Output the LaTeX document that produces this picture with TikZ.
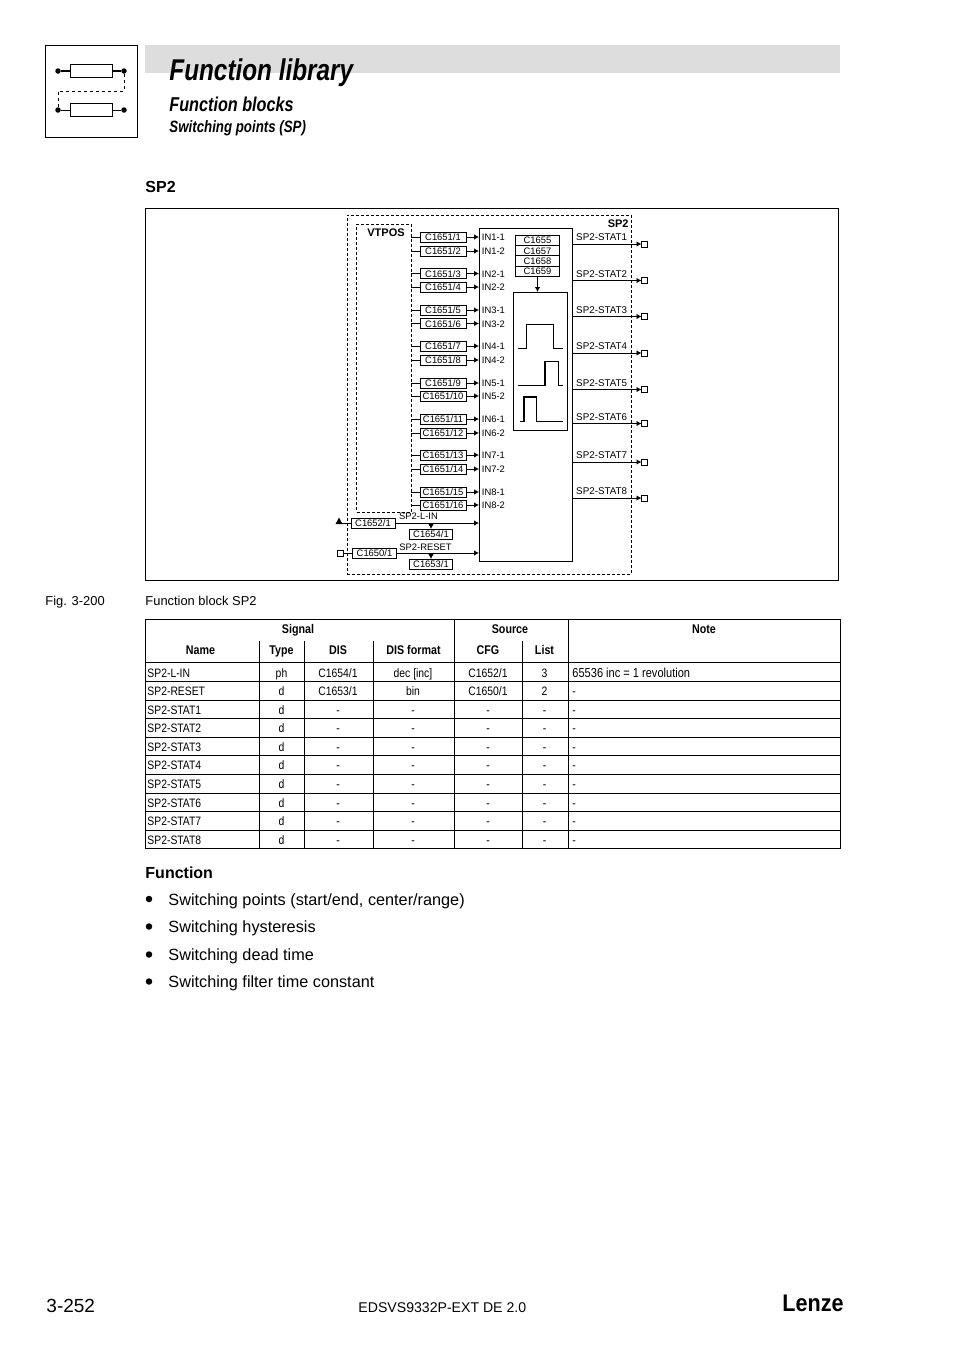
\documentclass[tikz,border=0pt]{standalone}
\usepackage{fontspec}
\setmainfont{Liberation Sans}
\newfontfamily\narrowfont[FakeStretch=0.85]{Liberation Sans}
\newfontfamily\titlefont[FakeStretch=0.81]{Liberation Sans}
\newfontfamily\logofont[FakeStretch=0.9]{Liberation Sans}
\usepackage{xcolor}
\usetikzlibrary{arrows.meta,positioning,shapes.geometric}
\definecolor{bandgray}{HTML}{DDDDDD}
\newcommand{\sizept}[1]{\fontsize{#1}{#1}\selectfont}

\begin{document}
\begin{tikzpicture}[x=1pt,y=-1pt,line width=0.9pt,
 frame/.style={draw,inner sep=0pt,outer sep=0pt},
 dashframe/.style={draw,dash pattern=on 3pt off 2pt,inner sep=0pt,outer sep=0pt},
 cbox/.style={draw,fill=white,inner sep=0pt,outer sep=0pt,minimum width=46pt,minimum height=10pt,text height=7pt,text depth=0pt,font=\sizept{9.4}},
 dbox/.style={cbox,minimum width=43pt},
 stackbox/.style={cbox,minimum width=44pt,minimum height=10.3pt},
 sig/.style={inner sep=0pt,text height=7pt,text depth=0pt,font=\sizept{9.4}},
 statlab/.style={sig,font=\sizept{9.8}},
 portsq/.style={draw,fill=white,inner sep=0pt,outer sep=0pt,minimum size=6pt},
 arr/.style={-{Latex[length=5pt,width=5.5pt]}},
 pulse/.style={line width=1.3pt},
 txt/.style={anchor=base west,inner sep=0pt},
 head/.style={anchor=base,inner sep=0pt,font=\narrowfont\sizept{12.6}\bfseries},
 cell/.style={anchor=base,inner sep=0pt,font=\narrowfont\sizept{12.2}},
 lcell/.style={anchor=base west,inner sep=0pt,font=\narrowfont\sizept{12.2}},
 bullet/.style={circle,fill,inner sep=0pt,minimum size=6.5pt},
 dot/.style={circle,fill,inner sep=0pt,minimum size=5.5pt},
 item/.style={anchor=base west,inner sep=0pt,font=\sizept{16.25}}]
\useasboundingbox (0,0) rectangle (954,1350);
% page head
\node[fill=bandgray,inner sep=0pt,minimum width=695pt,minimum height=28pt] (band) at (492.5,59) {};
\node[frame,minimum size=92pt] (icon) at (91,91) {};
\node[frame,minimum width=42pt,minimum height=12.5pt] (rtop) at (91,71) {};
\node[frame,minimum width=42pt,minimum height=12.5pt] (rbot) at (91,110) {};
\node[dot] (dota) at (58,71) {}; \node[dot] (dotb) at (124,71) {};
\node[dot] (dotc) at (58,110) {}; \node[dot] (dotd) at (124,110) {};
\draw[line width=2pt] (dota)--(rtop); \draw[line width=2pt] (rtop)--(dotb);
\draw (dotc)--(rbot); \draw (rbot)--(dotd);
\draw[dash pattern=on 3pt off 3pt] (dotb)--(124,91)--(58,91)--(dotc);
\node[txt,font=\titlefont\sizept{30}\bfseries\itshape] (title) at (169,80) {Function library};
\node[txt,font=\titlefont\sizept{20}\bfseries\itshape] (subtitle) at (169,111) {Function blocks};
\node[txt,font=\titlefont\sizept{16.4}\bfseries\itshape] (subsub) at (169,132) {Switching points (SP)};
\node[txt,font=\sizept{16}\bfseries] (sptitle) at (145,192) {SP2};
% block diagram
\node[frame,minimum width=693pt,minimum height=372pt] (outer) at (491.5,394) {};
\node[dashframe,minimum width=284pt,minimum height=359pt] (sp) at (489,394.5) {};
\node[dashframe,minimum width=54.5pt,minimum height=288pt] (vtpos) at (383.75,368) {};
\node[frame,minimum width=93pt,minimum height=333pt] (block) at (525.5,394.5) {};
\node[frame,minimum width=54pt,minimum height=138pt] (curve) at (540.7,361) {};
\node[sig,font=\sizept{11}\bfseries] (vtposlab) at (386,233) {VTPOS};
\node[sig,font=\sizept{11}\bfseries,anchor=east] (splab) at (629,224) {SP2};
% codes above the curves
\node[stackbox] (c1655) at (537.5,240.3) {C1655};
\node[stackbox,below=0pt of c1655] (c1657) {C1657};
\node[stackbox,below=0pt of c1657] (c1658) {C1658};
\node[stackbox,below=0pt of c1658] (c1659) {C1659};
\draw[line width=1.5pt] (c1655.south west)--(c1655.south east);
\draw[arr] (c1659.south)--(c1659.south |- curve.north);
\draw[pulse] (518,348.3)--(526.7,348.3)--(526.7,324.3)--(553.3,324.3)--(553.3,348.3)--(562.7,348.3);
\draw[pulse] (518,385.7)--(545,385.7)--(545,361.7)--(558.3,361.7)--(558.3,385.7)--(562.7,385.7);
\draw[pulse] (520,421.7)--(524,421.7)--(524,397)--(536.7,397)--(536.7,421.7)--(563,421.7);
% inputs
\node[cbox] (c1) at (443,237) {C1651/1}; \node[sig,right=15.5pt of c1] (in1) {IN1-1};
\node[cbox] (c2) at (443,251) {C1651/2}; \node[sig,right=15.5pt of c2] (in2) {IN1-2};
\node[cbox] (c3) at (443,273.5) {C1651/3}; \node[sig,right=15.5pt of c3] (in3) {IN2-1};
\node[cbox] (c4) at (443,287) {C1651/4}; \node[sig,right=15.5pt of c4] (in4) {IN2-2};
\node[cbox] (c5) at (443,310) {C1651/5}; \node[sig,right=15.5pt of c5] (in5) {IN3-1};
\node[cbox] (c6) at (443,323.5) {C1651/6}; \node[sig,right=15.5pt of c6] (in6) {IN3-2};
\node[cbox] (c7) at (443,346) {C1651/7}; \node[sig,right=15.5pt of c7] (in7) {IN4-1};
\node[cbox] (c8) at (443,360) {C1651/8}; \node[sig,right=15.5pt of c8] (in8) {IN4-2};
\node[cbox] (c9) at (443,383) {C1651/9}; \node[sig,right=15.5pt of c9] (in9) {IN5-1};
\node[cbox] (c10) at (443,396) {C1651/10}; \node[sig,right=15.5pt of c10] (in10) {IN5-2};
\node[cbox] (c11) at (443,419) {C1651/11}; \node[sig,right=15.5pt of c11] (in11) {IN6-1};
\node[cbox] (c12) at (443,433) {C1651/12}; \node[sig,right=15.5pt of c12] (in12) {IN6-2};
\node[cbox] (c13) at (443,455) {C1651/13}; \node[sig,right=15.5pt of c13] (in13) {IN7-1};
\node[cbox] (c14) at (443,469) {C1651/14}; \node[sig,right=15.5pt of c14] (in14) {IN7-2};
\node[cbox] (c15) at (443,492) {C1651/15}; \node[sig,right=15.5pt of c15] (in15) {IN8-1};
\node[cbox] (c16) at (443,505) {C1651/16}; \node[sig,right=15.5pt of c16] (in16) {IN8-2};
\draw (vtpos.east |- c1)--(c1); \draw[arr] (c1)--(c1 -| block.west);
\draw (vtpos.east |- c2)--(c2); \draw[arr] (c2)--(c2 -| block.west);
\draw (vtpos.east |- c3)--(c3); \draw[arr] (c3)--(c3 -| block.west);
\draw (vtpos.east |- c4)--(c4); \draw[arr] (c4)--(c4 -| block.west);
\draw (vtpos.east |- c5)--(c5); \draw[arr] (c5)--(c5 -| block.west);
\draw (vtpos.east |- c6)--(c6); \draw[arr] (c6)--(c6 -| block.west);
\draw (vtpos.east |- c7)--(c7); \draw[arr] (c7)--(c7 -| block.west);
\draw (vtpos.east |- c8)--(c8); \draw[arr] (c8)--(c8 -| block.west);
\draw (vtpos.east |- c9)--(c9); \draw[arr] (c9)--(c9 -| block.west);
\draw (vtpos.east |- c10)--(c10); \draw[arr] (c10)--(c10 -| block.west);
\draw (vtpos.east |- c11)--(c11); \draw[arr] (c11)--(c11 -| block.west);
\draw (vtpos.east |- c12)--(c12); \draw[arr] (c12)--(c12 -| block.west);
\draw (vtpos.east |- c13)--(c13); \draw[arr] (c13)--(c13 -| block.west);
\draw (vtpos.east |- c14)--(c14); \draw[arr] (c14)--(c14 -| block.west);
\draw (vtpos.east |- c15)--(c15); \draw[arr] (c15)--(c15 -| block.west);
\draw (vtpos.east |- c16)--(c16); \draw[arr] (c16)--(c16 -| block.west);
% outputs
\node[portsq] (out1) at (644.5,244) {}; \node[statlab,above left=0pt and 14pt of out1] (stat1) {SP2-STAT1};
\node[portsq] (out2) at (644.5,280.5) {}; \node[statlab,above left=0pt and 14pt of out2] (stat2) {SP2-STAT2};
\node[portsq] (out3) at (644.5,316.5) {}; \node[statlab,above left=0pt and 14pt of out3] (stat3) {SP2-STAT3};
\node[portsq] (out4) at (644.5,353) {}; \node[statlab,above left=0pt and 14pt of out4] (stat4) {SP2-STAT4};
\node[portsq] (out5) at (644.5,389.5) {}; \node[statlab,above left=0pt and 14pt of out5] (stat5) {SP2-STAT5};
\node[portsq] (out6) at (644.5,423.5) {}; \node[statlab,above left=0pt and 14pt of out6] (stat6) {SP2-STAT6};
\node[portsq] (out7) at (644.5,462) {}; \node[statlab,above left=0pt and 14pt of out7] (stat7) {SP2-STAT7};
\node[portsq] (out8) at (644.5,498) {}; \node[statlab,above left=0pt and 14pt of out8] (stat8) {SP2-STAT8};
\draw[arr] (block.east |- out1)--(out1); \draw[arr] (block.east |- out2)--(out2);
\draw[arr] (block.east |- out3)--(out3); \draw[arr] (block.east |- out4)--(out4);
\draw[arr] (block.east |- out5)--(out5); \draw[arr] (block.east |- out6)--(out6);
\draw[arr] (block.east |- out7)--(out7); \draw[arr] (block.east |- out8)--(out8);
% phase and reset inputs
\node[dbox,minimum width=44pt] (c1652) at (373,523) {C1652/1};
\node[dbox,minimum width=44pt] (c1650) at (374.5,553) {C1650/1};
\node[dbox] (c1654) at (431,534) {C1654/1};
\node[dbox] (c1653) at (431,564) {C1653/1};
\node[isosceles triangle,isosceles triangle apex angle=60,isosceles triangle stretches,shape border rotate=90,fill,inner sep=0pt,minimum height=6.5pt,minimum width=7pt] (inport) at (339,522) {};
\node[portsq] (rstport) at (340,553) {};
\node[sig] (linlab) at (418.5,516) {SP2-L-IN};
\node[sig] (rstlab) at (425.5,546.5) {SP2-RESET};
\draw (inport.center |- c1652)--(c1652); \draw[arr] (c1652)--(c1652 -| block.west);
\draw (rstport)--(c1650); \draw[arr] (c1650)--(c1650 -| block.west);
\draw[arr] (c1652 -| c1654)--(c1654); \draw[arr] (c1650 -| c1653)--(c1653);
% caption
\node[txt,font=\sizept{12.9}] (figno) at (45,605) {Fig. 3-200};
\node[txt,font=\sizept{12.9}] (figcap) at (145,605) {Function block SP2};
% table
\draw (145,619) rectangle (840,848.5);
\draw (145,662)--(840,662) (145,681)--(840,681) (145,700)--(840,700) (145,718.5)--(840,718.5) (145,737)--(840,737) (145,755.5)--(840,755.5) (145,774)--(840,774) (145,793)--(840,793) (145,811.5)--(840,811.5) (145,830)--(840,830);
\draw (454,619)--(454,848.5) (568,619)--(568,848.5);
\draw (259,641)--(259,848.5) (304,641)--(304,848.5) (373,641)--(373,848.5) (522,641)--(522,848.5);
\node[head] (hsig) at (298,633) {Signal}; \node[head] (hsrc) at (510,633) {Source}; \node[head] (hnote) at (704,633) {Note};
\node[head] (hname) at (200.5,654.5) {Name}; \node[head] (htype) at (281.5,654.5) {Type}; \node[head] (hdis) at (338,654.5) {DIS};
\node[head] (hfmt) at (413.5,654.5) {DIS format}; \node[head] (hcfg) at (488,654.5) {CFG}; \node[head] (hlist) at (544.5,654.5) {List};
\node[lcell] (a1) at (147,677) {SP2-L-IN}; \node[cell] (b1) at (281.5,677) {ph}; \node[cell] (d1) at (338,677) {C1654/1}; \node[cell] (e1) at (413,677) {dec [inc]}; \node[cell] (f1) at (488,677) {C1652/1}; \node[cell] (g1) at (544.5,677) {3}; \node[lcell,font=\narrowfont\sizept{13}] (h1) at (572,677) {65536 inc = 1 revolution};
\node[lcell] (a2) at (147,695.5) {SP2-RESET}; \node[cell] (b2) at (281.5,695.5) {d}; \node[cell] (d2) at (338,695.5) {C1653/1}; \node[cell] (e2) at (413,695.5) {bin}; \node[cell] (f2) at (488,695.5) {C1650/1}; \node[cell] (g2) at (544.5,695.5) {2}; \node[lcell] (h2) at (572,695.5) {-};
\node[lcell] (a3) at (147,714) {SP2-STAT1}; \node[cell] (b3) at (281.5,714) {d}; \node[cell] (d3) at (338,714) {-}; \node[cell] (e3) at (413,714) {-}; \node[cell] (f3) at (488,714) {-}; \node[cell] (g3) at (544.5,714) {-}; \node[lcell] (h3) at (572,714) {-};
\node[lcell] (a4) at (147,732.5) {SP2-STAT2}; \node[cell] (b4) at (281.5,732.5) {d}; \node[cell] (d4) at (338,732.5) {-}; \node[cell] (e4) at (413,732.5) {-}; \node[cell] (f4) at (488,732.5) {-}; \node[cell] (g4) at (544.5,732.5) {-}; \node[lcell] (h4) at (572,732.5) {-};
\node[lcell] (a5) at (147,751) {SP2-STAT3}; \node[cell] (b5) at (281.5,751) {d}; \node[cell] (d5) at (338,751) {-}; \node[cell] (e5) at (413,751) {-}; \node[cell] (f5) at (488,751) {-}; \node[cell] (g5) at (544.5,751) {-}; \node[lcell] (h5) at (572,751) {-};
\node[lcell] (a6) at (147,769.5) {SP2-STAT4}; \node[cell] (b6) at (281.5,769.5) {d}; \node[cell] (d6) at (338,769.5) {-}; \node[cell] (e6) at (413,769.5) {-}; \node[cell] (f6) at (488,769.5) {-}; \node[cell] (g6) at (544.5,769.5) {-}; \node[lcell] (h6) at (572,769.5) {-};
\node[lcell] (a7) at (147,788) {SP2-STAT5}; \node[cell] (b7) at (281.5,788) {d}; \node[cell] (d7) at (338,788) {-}; \node[cell] (e7) at (413,788) {-}; \node[cell] (f7) at (488,788) {-}; \node[cell] (g7) at (544.5,788) {-}; \node[lcell] (h7) at (572,788) {-};
\node[lcell] (a8) at (147,807) {SP2-STAT6}; \node[cell] (b8) at (281.5,807) {d}; \node[cell] (d8) at (338,807) {-}; \node[cell] (e8) at (413,807) {-}; \node[cell] (f8) at (488,807) {-}; \node[cell] (g8) at (544.5,807) {-}; \node[lcell] (h8) at (572,807) {-};
\node[lcell] (a9) at (147,825.5) {SP2-STAT7}; \node[cell] (b9) at (281.5,825.5) {d}; \node[cell] (d9) at (338,825.5) {-}; \node[cell] (e9) at (413,825.5) {-}; \node[cell] (f9) at (488,825.5) {-}; \node[cell] (g9) at (544.5,825.5) {-}; \node[lcell] (h9) at (572,825.5) {-};
\node[lcell] (a10) at (147,844) {SP2-STAT8}; \node[cell] (b10) at (281.5,844) {d}; \node[cell] (d10) at (338,844) {-}; \node[cell] (e10) at (413,844) {-}; \node[cell] (f10) at (488,844) {-}; \node[cell] (g10) at (544.5,844) {-}; \node[lcell] (h10) at (572,844) {-};
% function list
\node[txt,font=\sizept{16}\bfseries] (fnhead) at (145,878) {Function};
\node[bullet] (ba) at (149,899) {}; \node[item] (ia) at (168,905) {Switching points (start/end, center/range)};
\node[bullet] (bb) at (149,926.5) {}; \node[item] (ib) at (168,932.5) {Switching hysteresis};
\node[bullet] (bc) at (149,954.5) {}; \node[item] (ic) at (168,960.5) {Switching dead time};
\node[bullet] (bd) at (149,981.5) {}; \node[item] (id) at (168,987.5) {Switching filter time constant};
% foot
\node[txt,font=\sizept{19}] (pageno) at (46,1312.5) {3-252};
\node[txt,font=\sizept{14.1}] (docno) at (358,1312) {EDSVS9332P-EXT DE 2.0};
\node[txt,font=\logofont\sizept{24}\bfseries] (logo) at (782,1311) {Lenze};
\end{tikzpicture}
\end{document}
